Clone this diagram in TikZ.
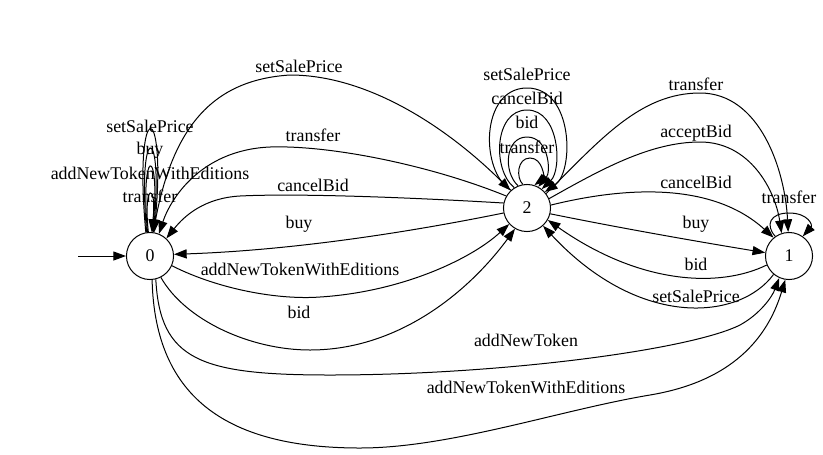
\documentclass[tikz,border=0pt]{standalone}
\usepackage{fontspec}
\setmainfont{Liberation Serif}
\usetikzlibrary{arrows.meta}
\begin{document}
\begin{tikzpicture}[x=0.75pt,y=-0.75pt,
  state/.style={circle,draw,line width=0.75pt,minimum size=35.3pt,inner sep=0pt,font=\fontsize{13.4}{16}\selectfont},
  edge/.style={draw,line width=0.75pt,-{Triangle[length=9.5pt,width=6.8pt]}},
  lbl/.style={font=\fontsize{13.4}{16}\selectfont,inner sep=0pt}]
\useasboundingbox (0,0) rectangle (823,454);

\node[state] (n0) at (150,256) {0};
\node[state] (n2) at (527,208) {2};
\node[state] (n1) at (789,256) {1};
\coordinate (init) at (78,256);
\draw[edge] (init) -- (n0);

% 0 -> 2 setSalePrice
\draw[edge] (n0.82) .. controls (170,130) and (210,80) .. (290,75) .. controls (370,75) and (450,130) .. (n2.133);
\node[lbl] (l02a) at (299,66) {setSalePrice};
% 2 -> 0 transfer
\draw[edge] (n2.150) .. controls (430,165) and (330,145) .. (270,147) .. controls (200,150) and (170,200) .. (n0.68);
\node[lbl] (l20a) at (313,135) {transfer};
% 2 -> 0 cancelBid
\draw[edge] (n2.168) .. controls (420,198) and (300,193) .. (240,196) .. controls (205,198) and (185,215) .. (n0.47);
\node[lbl] (l20b) at (313,185) {cancelBid};
% 2 -> 0 buy
\draw[edge] (n2.192) .. controls (420,230) and (300,250) .. (n0.4);
\node[lbl] (l20c) at (299,224) {buy};
% 0 -> 2 addNewTokenWithEditions
\draw[edge] (n0.336) .. controls (220,290) and (280,300) .. (320,297) .. controls (400,292) and (470,260) .. (n2.222);
\node[lbl] (l02b) at (300,269) {addNewTokenWithEditions};
% 0 -> 2 bid
\draw[edge] (n0.297) .. controls (185,320) and (250,350) .. (310,350) .. controls (400,350) and (470,290) .. (n2.240);
\node[lbl] (l02c) at (299,312) {bid};

% 0 -> 1 addNewToken
\draw[edge] (n0.284) .. controls (160,360) and (200,375) .. (330,375) .. controls (500,375) and (690,350) .. (740,325) .. controls (760,314) and (772,297) .. (n1.246);
\node[lbl] (l01a) at (526,340) {addNewToken};
% 0 -> 1 addNewTokenWithEditions
\draw[edge] (n0.275) .. controls (155,400) and (230,448) .. (360,448) .. controls (450,448) and (560,410) .. (650,395) .. controls (740,380) and (770,330) .. (n1.261);
\node[lbl] (l01b) at (526,387) {addNewTokenWithEditions};

% self loops at 0
\draw[edge] (n0.100) .. controls (133,96) and (167,96) .. (n0.80);
\draw[edge] (n0.98) .. controls (137,122) and (163,122) .. (n0.82);
\draw[edge] (n0.96) .. controls (140,146) and (160,146) .. (n0.84);
\draw[edge] (n0.94) .. controls (143,182) and (157,182) .. (n0.86);
\node[lbl] (l00a) at (150,126) {setSalePrice};
\node[lbl] (l00b) at (150,150) {buy};
\node[lbl] (l00c) at (150,173) {addNewTokenWithEditions};
\node[lbl] (l00d) at (150,196) {transfer};

% self loops at 2
\draw[edge] (n2.132) .. controls (480,172) and (480,88) .. (527,88) .. controls (574,88) and (574,172) .. (n2.42);
\draw[edge] (n2.122) .. controls (492,170) and (494,110) .. (527,110) .. controls (560,110) and (562,170) .. (n2.52);
\draw[edge] (n2.112) .. controls (503,172) and (505,137) .. (527,137) .. controls (549,137) and (551,172) .. (n2.62);
\draw[edge] (n2.100) .. controls (516,178) and (517,158) .. (530,158) .. controls (543,158) and (544,178) .. (n2.72);
\node[lbl] (l22a) at (527,74) {setSalePrice};
\node[lbl] (l22b) at (527,98) {cancelBid};
\node[lbl] (l22c) at (527,122) {bid};
\node[lbl] (l22d) at (527,147) {transfer};

% 2 -> 1
\draw[edge] (n2.37) .. controls (600,140) and (640,93) .. (700,93) .. controls (760,93) and (785,170) .. (n1.92);
\node[lbl] (l21a) at (696,84) {transfer};
\draw[edge] (n2.23) .. controls (600,170) and (650,142) .. (700,142) .. controls (750,142) and (775,190) .. (n1.108);
\node[lbl] (l21b) at (696,133) {acceptBid};
\draw[edge] (n2.7) .. controls (620,188) and (710,180) .. (n1.130);
\node[lbl] (l21c) at (696,182) {cancelBid};
\draw[edge] (n2.346) .. controls (620,228) and (700,242) .. (n1.172);
\node[lbl] (l21d) at (696,224) {buy};
% 1 -> 2
\draw[edge] (n1.202) .. controls (720,288) and (640,285) .. (n2.330);
\node[lbl] (l12a) at (696,264) {bid};
\draw[edge] (n1.230) .. controls (740,320) and (640,330) .. (n2.312);
\node[lbl] (l12b) at (696,296) {setSalePrice};

% self loop at 1
\draw[edge] (n1.125) .. controls (765,225) and (770,213) .. (789,213) .. controls (808,213) and (813,225) .. (n1.55);
\node[lbl] (l11a) at (789,197) {transfer};
\end{tikzpicture}
\end{document}
